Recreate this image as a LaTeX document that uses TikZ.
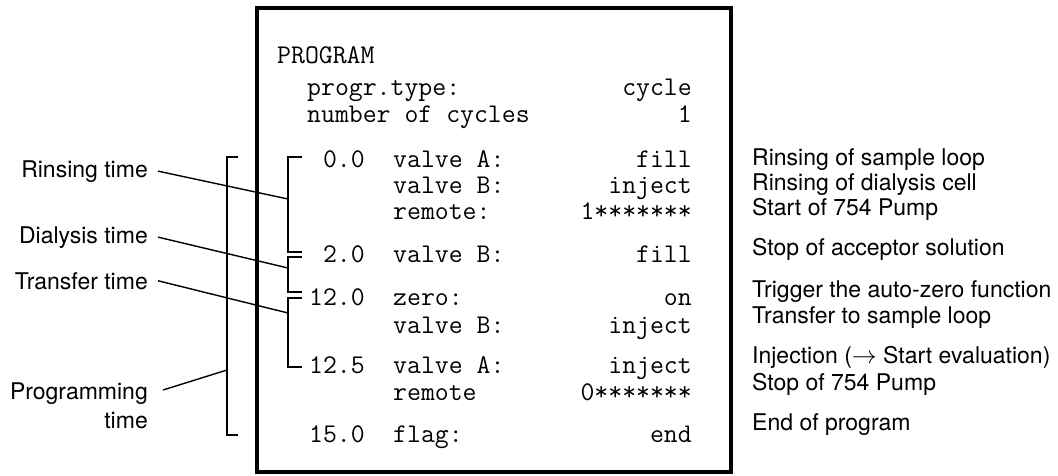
\documentclass[tikz,border=0pt]{standalone}
\usepackage{fontspec}
\setsansfont{TeX Gyre Heros}
\begin{document}
\begin{tikzpicture}[x=1pt,y=-1pt,
  prog/.style={inner sep=0pt,font=\fontsize{27}{30}\selectfont\ttfamily},
  note/.style={inner sep=0pt,font=\fontsize{23}{29}\selectfont\sffamily},
  brace/.style={line width=1.4pt},
  lead/.style={line width=1.4pt}]
\useasboundingbox (0,0) rectangle (1058,475);
% program listing
\draw[line width=4.5pt] (257,8) rectangle (731,472);
\node[prog,anchor=base west] (title) at (277,63) {PROGRAM};
\node[prog,anchor=base west] (type) at (307,95) {progr.type:};
\node[prog,anchor=base east] (typev) at (692,95) {cycle};
\node[prog,anchor=base west] (ncyc) at (307,122) {number of cycles};
\node[prog,anchor=base east] (ncycv) at (692,122) {1};
% time steps
\node[prog,anchor=base east] (t0) at (365,167) {0.0};
\node[prog,anchor=base west] (t0a) at (393,167) {valve A:};
\node[prog,anchor=base east] (t0av) at (692,167) {fill};
\node[prog,anchor=base west] (t0b) at (393,193) {valve B:};
\node[prog,anchor=base east] (t0bv) at (692,193) {inject};
\node[prog,anchor=base west] (t0c) at (393,219) {remote:};
\node[prog,anchor=base east] (t0cv) at (692,219) {1*******};
\node[prog,anchor=base east] (t2) at (365,262) {2.0};
\node[prog,anchor=base west] (t2a) at (393,262) {valve B:};
\node[prog,anchor=base east] (t2av) at (692,262) {fill};
\node[prog,anchor=base east] (t12) at (365,305) {12.0};
\node[prog,anchor=base west] (t12a) at (393,305) {zero:};
\node[prog,anchor=base east] (t12av) at (692,305) {on};
\node[prog,anchor=base west] (t12b) at (393,333) {valve B:};
\node[prog,anchor=base east] (t12bv) at (692,333) {inject};
\node[prog,anchor=base east] (t125) at (365,373) {12.5};
\node[prog,anchor=base west] (t125a) at (393,373) {valve A:};
\node[prog,anchor=base east] (t125av) at (692,373) {inject};
\node[prog,anchor=base west] (t125b) at (393,400) {remote};
\node[prog,anchor=base east] (t125bv) at (692,400) {0*******};
\node[prog,anchor=base east] (t15) at (365,442) {15.0};
\node[prog,anchor=base west] (t15a) at (393,442) {flag:};
\node[prog,anchor=base east] (t15av) at (692,442) {end};
% comments on the right
\node[note,anchor=base west] (c1) at (752,165) {Rinsing of sample loop};
\node[note,anchor=base west] (c2) at (752,190) {Rinsing of dialysis cell};
\node[note,anchor=base west] (c3) at (752,215) {Start of 754 Pump};
\node[note,anchor=base west] (c4) at (752,255) {Stop of acceptor solution};
\node[note,anchor=base west] (c5) at (752,297) {Trigger the auto-zero function};
\node[note,anchor=base west] (c6) at (752,323) {Transfer to sample loop};
\node[note,anchor=base west] (c7) at (752,363) {Injection ($\rightarrow$ Start evaluation)};
\node[note,anchor=base west] (c8) at (752,390) {Stop of 754 Pump};
\node[note,anchor=base west] (c9) at (752,430) {End of program};
% brackets
\coordinate (rinse) at (288,199);
\coordinate (dial) at (288,268);
\coordinate (trans) at (288,313);
\coordinate (progr) at (227,370);
\draw[brace] (302,157) -| (288,252) -- (302,252);
\draw[brace] (302,257) -| (288,292) -- (302,292);
\draw[brace] (302,298) -| (288,367) -- (302,367);
\draw[brace] (238,157) -| (227,435) -- (238,435);
% labels on the left
\node[note,anchor=base east] (rinsetxt) at (148,177) {Rinsing time};
\node[note,anchor=base east] (dialtxt) at (148,243) {Dialysis time};
\node[note,anchor=base east] (transtxt) at (148,289) {Transfer time};
\node[note,anchor=north east,align=right] (progtxt) at (148,383) {Programming\\time};
\draw[lead] ([xshift=10pt]rinsetxt.east) -- (rinse);
\draw[lead] ([xshift=10pt]dialtxt.east) -- (dial);
\draw[lead] ([xshift=10pt]transtxt.east) -- (trans);
\draw[lead] ([shift={(15,7)}]progtxt.north east) -- (progr);
\end{tikzpicture}
\end{document}
